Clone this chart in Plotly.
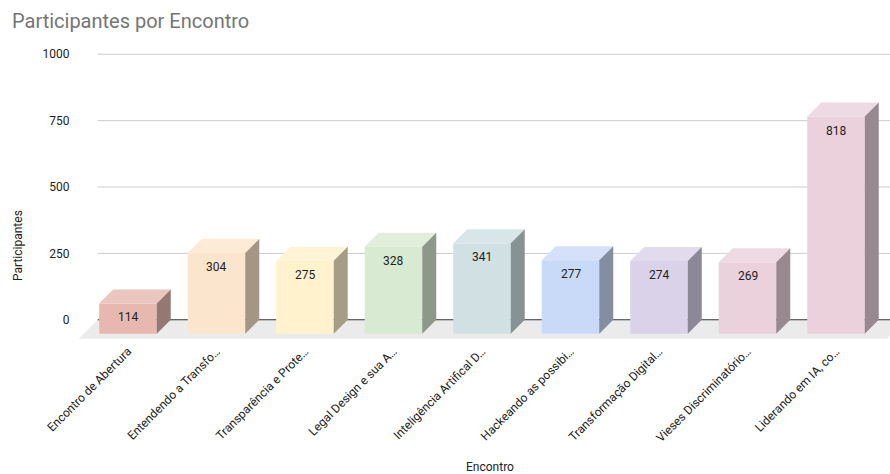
import plotly.graph_objects as go

# ---- data -------------------------------------------------------------
categories = [
    "Encontro de Abertura",
    "Entendendo a Transfo…",
    "Transparência e Prote…",
    "Legal Design e sua A…",
    "Inteligência Artifical D…",
    "Hackeando as possibi…",
    "Transformação Digital…",
    "Vieses Discriminatório…",
    "Liderando em IA, co…",
]
participants = [114, 304, 275, 328, 341, 277, 274, 269, 818]
front_colors = [
    "#e6b8af", "#fce5cd", "#fff2cc", "#d9ead3", "#d0e0e3",
    "#c9daf8", "#d9d2e9", "#ead1dc", "#ead1dc",
]
y_ticks = [0, 250, 500, 750, 1000]

# ---- geometry of the oblique 3D look ---------------------------------
DEPTH_X = 0.158      # depth offset, category units
DEPTH_Y = 52.7       # depth offset, value units
HALF_W = 0.325       # half width of a bar face
FLOOR_DX = 0.215
FLOOR_DY = 71.5
FLOOR_X0 = -0.50
FLOOR_X1 = 8.63
X_RANGE = [-0.734, 8.452]
Y_RANGE = [-80, 1050]
FONT = "Roboto, Arial, sans-serif"


def _rgb(h):
    h = h.lstrip("#")
    return [int(h[i:i + 2], 16) for i in (0, 2, 4)]


def shade(h, f):
    r, g, b = (round(c * f) for c in _rgb(h))
    return f"rgb({r},{g},{b})"


def tint(h, f):
    r, g, b = (round(c + (255 - c) * f) for c in _rgb(h))
    return f"rgb({r},{g},{b})"


fig = go.Figure()

# floor under the bars
floor_path = (
    f"M {FLOOR_X0},0 L {FLOOR_X1},0 "
    f"L {FLOOR_X1 - FLOOR_DX},{-FLOOR_DY} L {FLOOR_X0 - FLOOR_DX},{-FLOOR_DY} Z"
)
fig.add_shape(type="path", path=floor_path, xref="x", yref="y",
              fillcolor="#ebebeb", line=dict(width=0), layer="below")

# gridlines on the back wall
for t in y_ticks:
    fig.add_shape(type="line", xref="x", yref="y",
                  x0=FLOOR_X0, x1=X_RANGE[1], y0=t, y1=t,
                  line=dict(color="#333333" if t == 0 else "#cccccc", width=1),
                  layer="below")

n = len(categories)
front_x = [i - DEPTH_X for i in range(n)]

# front faces
fig.add_trace(go.Bar(
    x=front_x, y=participants, base=-DEPTH_Y, width=2 * HALF_W,
    marker=dict(color=front_colors, line=dict(width=0)),
    hoverinfo="skip", showlegend=False,
))

# top and side faces
for i, (v, c) in enumerate(zip(participants, front_colors)):
    fx = i - DEPTH_X
    top_x = [fx - HALF_W, fx + HALF_W, i + HALF_W, i - HALF_W, fx - HALF_W]
    top_y = [v - DEPTH_Y, v - DEPTH_Y, v, v, v - DEPTH_Y]
    fig.add_trace(go.Scatter(
        x=top_x, y=top_y, fill="toself", fillcolor=tint(c, 0.2),
        mode="lines", line=dict(width=0), hoverinfo="skip", showlegend=False,
    ))
    side_x = [fx + HALF_W, fx + HALF_W, i + HALF_W, i + HALF_W, fx + HALF_W]
    side_y = [-DEPTH_Y, v - DEPTH_Y, v, 0, -DEPTH_Y]
    fig.add_trace(go.Scatter(
        x=side_x, y=side_y, fill="toself", fillcolor=shade(c, 0.65),
        mode="lines", line=dict(width=0), hoverinfo="skip", showlegend=False,
    ))

# value labels on the front faces
for fx, v in zip(front_x, participants):
    fig.add_annotation(x=fx, y=v - DEPTH_Y, xref="x", yref="y",
                       text=str(v), showarrow=False, yanchor="top", yshift=-5,
                       font=dict(family=FONT, size=12, color="#222222"))

# axis titles
fig.add_annotation(text="Participantes", xref="paper", yref="paper",
                   x=-0.0726, y=0.32, xanchor="center", yanchor="middle",
                   textangle=-90, showarrow=False,
                   font=dict(family=FONT, size=12, color="#222222"))
fig.add_annotation(text="Encontro", xref="paper", yref="paper",
                   x=0.508, y=-0.42, xanchor="center", yanchor="middle",
                   showarrow=False,
                   font=dict(family=FONT, size=12, color="#222222"))

fig.update_layout(
    width=890, height=474,
    margin=dict(l=77, r=0, t=41, b=133),
    paper_bgcolor="white", plot_bgcolor="white",
    title=dict(text="Participantes por Encontro", x=12 / 890, xanchor="left",
               y=1 - 21 / 474, yanchor="middle",
               font=dict(family=FONT, size=20, color="#757575")),
    xaxis=dict(range=X_RANGE, tickvals=front_x, ticktext=categories,
               tickangle=-45, showgrid=False, zeroline=False, showline=False,
               tickfont=dict(family=FONT, size=12, color="#222222")),
    yaxis=dict(range=Y_RANGE, tickvals=y_ticks, showgrid=False, zeroline=False,
               showline=False, ticks="outside", ticklen=4,
               tickcolor="rgba(0,0,0,0)",
               tickfont=dict(family=FONT, size=12, color="#222222")),
    showlegend=False,
)

fig.write_html("out.html")
